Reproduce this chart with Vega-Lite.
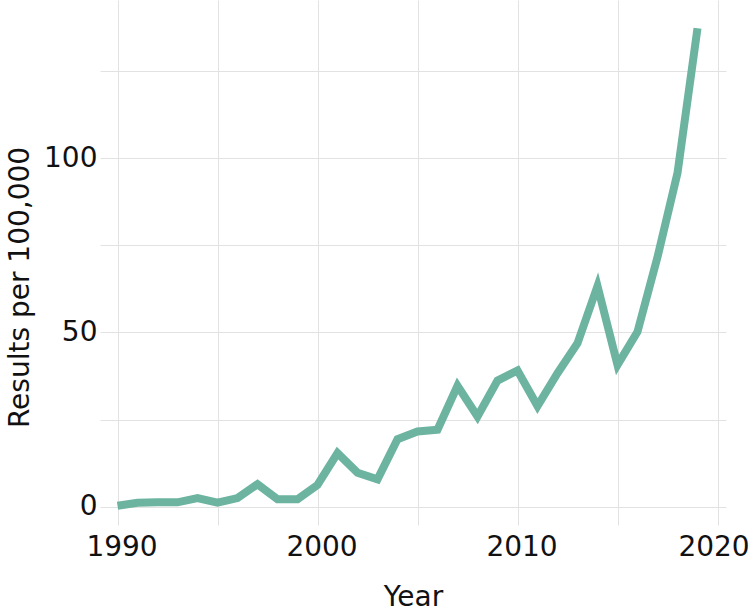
{
  "$schema": "https://vega.github.io/schema/vega-lite/v6.json",
  "width": 626,
  "height": 525,
  "autosize": {"type": "none"},
  "padding": {"left": 100, "top": 0, "right": 24, "bottom": 88},
  "background": "white",
  "config": {
    "view": {"stroke": null},
    "font": "DejaVu Sans"
  },
  "data": {
    "values": [
      {"Year": 1990, "Results": 0.3},
      {"Year": 1991, "Results": 1.2},
      {"Year": 1992, "Results": 1.3},
      {"Year": 1993, "Results": 1.3},
      {"Year": 1994, "Results": 2.5},
      {"Year": 1995, "Results": 1.2},
      {"Year": 1996, "Results": 2.5},
      {"Year": 1997, "Results": 6.5},
      {"Year": 1998, "Results": 2.2},
      {"Year": 1999, "Results": 2.2},
      {"Year": 2000, "Results": 6.3},
      {"Year": 2001, "Results": 15.4},
      {"Year": 2002, "Results": 9.8},
      {"Year": 2003, "Results": 7.9},
      {"Year": 2004, "Results": 19.4},
      {"Year": 2005, "Results": 21.6},
      {"Year": 2006, "Results": 22.1},
      {"Year": 2007, "Results": 34.7},
      {"Year": 2008, "Results": 25.9},
      {"Year": 2009, "Results": 36.2},
      {"Year": 2010, "Results": 39.1},
      {"Year": 2011, "Results": 28.9},
      {"Year": 2012, "Results": 38.3},
      {"Year": 2013, "Results": 46.9},
      {"Year": 2014, "Results": 63.3},
      {"Year": 2015, "Results": 40.7},
      {"Year": 2016, "Results": 50.2},
      {"Year": 2017, "Results": 71.6},
      {"Year": 2018, "Results": 95.7},
      {"Year": 2019, "Results": 137.2}
    ]
  },
  "mark": {"type": "line", "color": "#6cb4a0", "strokeWidth": 8, "strokeJoin": "miter", "strokeCap": "butt"},
  "encoding": {
    "x": {
      "field": "Year",
      "type": "quantitative",
      "scale": {"domain": [1989.125, 2020.425], "nice": false, "zero": false},
      "axis": {
        "title": "Year",
        "values": [1990, 1995, 2000, 2005, 2010, 2015, 2020],
        "format": "d",
        "labelExpr": "datum.value % 10 == 0 ? datum.label : ''",
        "grid": true,
        "gridColor": "#e2e2e2",
        "gridWidth": 1,
        "domain": false,
        "ticks": false,
        "labelFont": "DejaVu Sans",
        "labelFontSize": 28,
        "labelColor": "#111111",
        "labelPadding": 8,
        "labelFlush": false,
        "labelOffset": {"condition": {"test": "datum.value == 2020", "value": -4}, "value": 4},
        "titleFont": "DejaVu Sans",
        "titleFontSize": 28,
        "titleFontWeight": "normal",
        "titleColor": "#111111",
        "titleBaseline": "alphabetic",
        "titleY": 80
      }
    },
    "y": {
      "field": "Results",
      "type": "quantitative",
      "scale": {"domain": [-5.2, 145.3], "nice": false, "zero": false},
      "axis": {
        "title": "Results per 100,000",
        "values": [0, 25, 50, 75, 100, 125],
        "labelExpr": "datum.value % 50 == 0 ? datum.label : ''",
        "grid": true,
        "gridColor": "#e2e2e2",
        "gridWidth": 1,
        "domain": false,
        "ticks": false,
        "labelFont": "DejaVu Sans",
        "labelFontSize": 28,
        "labelColor": "#111111",
        "labelPadding": 3,
        "labelFlush": false,
        "titleFont": "DejaVu Sans",
        "titleFontSize": 28,
        "titleFontWeight": "normal",
        "titleColor": "#111111",
        "titleAngle": -90,
        "titleAlign": "center",
        "titleBaseline": "middle",
        "titleX": -80,
        "titleY": 287
      }
    }
  }
}
